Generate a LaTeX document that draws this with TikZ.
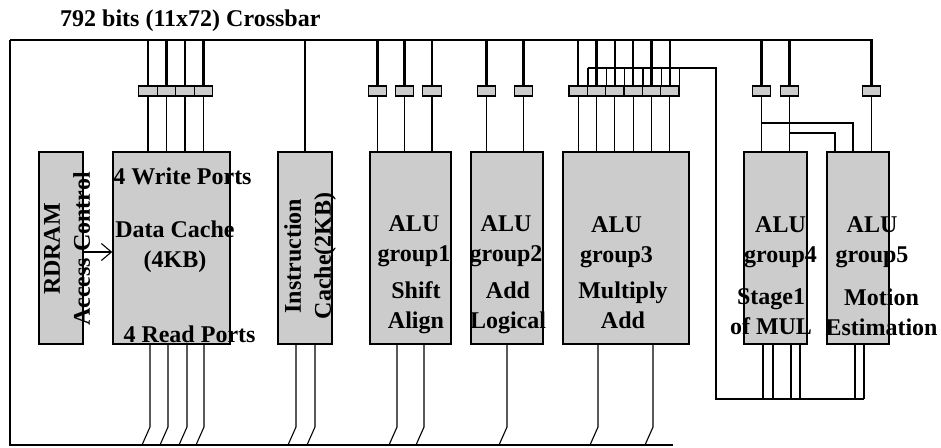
\documentclass[tikz,border=0pt]{standalone}
\usepackage{fontspec}
\setmainfont{Liberation Serif}
\usetikzlibrary{arrows.meta}

\begin{document}
\begin{tikzpicture}[x=1pt,y=-1pt,
    unit/.style={draw,fill=black!20,line width=1.5pt,inner sep=0pt,minimum height=192pt},
    buf/.style={draw,fill=black!20,line width=1.2pt,inner sep=0pt,minimum width=18.3pt,minimum height=10pt},
    drop/.style={line width=2.4pt},
    wire/.style={line width=1.1pt},
    lbl/.style={font=\fontsize{24}{30}\selectfont\bfseries,inner sep=0pt,align=center}]
  \useasboundingbox (0,0) rectangle (941,447);
  \coordinate (bus) at (0,40);
  \coordinate (nw) at (10,40);
  \coordinate (sw) at (10,445);
  \coordinate (se) at (673,445);
  \coordinate (fb) at (716,68);
  \coordinate (fbl) at (716,399);
  \node[lbl,anchor=base west] (title) at (60,27) {792 bits (11x72) Crossbar};

  \node[unit,minimum width=44pt] (rd) at (61,248) {};
  \node[unit,minimum width=117pt] (dc) at (171.5,248) {};
  \node[unit,minimum width=54pt] (ic) at (305,248) {};
  \node[unit,minimum width=81pt] (g1) at (410.5,248) {};
  \node[unit,minimum width=72pt] (g2) at (507,248) {};
  \node[unit,minimum width=126pt] (g3) at (626,248) {};
  \node[unit,minimum width=63pt] (g4) at (775.5,248) {};
  \node[unit,minimum width=62pt] (g5) at (858,248) {};

  \foreach \u/\xs in {dc/{148,166.5,185,203.5},g1/{377.5,404.5,432},g2/{486.5,523.5},g3/{578.2,596.5,614.8,633.2,651.5,669.8}}
    \foreach \x [count=\i] in \xs {
      \node[buf] (\u b\i) at (\x,91) {};
      \draw[drop] (\u b\i.north |- bus) -- (\u b\i.north);
      \draw[wire] (\u b\i.south) -- (\u b\i.south |- \u.north);
    }
  \foreach \x [count=\i] in {761.5,789.5,871.5}
    \node[buf] (q\i) at (\x,91) {};
  \foreach \i in {1,2}
    \draw[drop] (q\i.north |- bus) -- (q\i.north);
  \draw[line width=2.8pt] (q3.north) |- (nw);
  \draw[line width=2pt] (nw) -- (sw) -- (se);
  \draw[wire] (ic.north |- bus) -- (ic.north);

  \draw[wire] (q1.south) -- (q1.south |- g4.north);
  \draw[wire] (q2.south) -- (q2.south |- g4.north);
  \draw[wire] (q3.south) -- (q3.south |- g5.north);
  \draw[wire] (q1.south |- 0,123) -| (853,0 |- g5.north);
  \draw[wire] (q2.south |- 0,133) -| (835,0 |- g5.north);

  \foreach \i in {1,...,6}
    \draw[wire] (g3b\i.north east) -- (g3b\i.north east |- fb);
  \draw[wire] (g3b1.north east |- fb) -- (fb) -- (fbl) -- (864,0 |- fbl);
  \foreach \u/\xs in {g4/{763,773,791,800},g5/{855,864}}
    \foreach \x in \xs
      \draw[wire] (\x,0 |- \u.south) -- (\x,0 |- fbl);

  \foreach \u/\xs in {dc/{150,168,187,204},ic/{296,315},g1/{397,424},g2/{507},g3/{598,653}}
    \foreach \x in \xs
      \draw[wire] (\x,0 |- \u.south) -- (\x,427) -- ++(-8,18);

  \draw[wire,-{Straight Barb[length=10pt,width=17pt]}] ([yshift=-4pt]rd.east) -- ([yshift=-4pt]dc.west);

  \node[lbl,rotate=90] (rdt) at (67,249) {RDRAM\\Access Control};
  \node[lbl,anchor=north] (dcw) at (182.5,167.5) {4 Write Ports};
  \node[lbl,anchor=north] (dct) at (175,220.5) {Data Cache\\(4KB)};
  \node[lbl,anchor=north] (dcr) at (189.5,325.5) {4 Read Ports};
  \node[lbl,rotate=90] (ict) at (310,256) {Instruction\\Cache(2KB)};
  \node[lbl,anchor=north] (g1h) at (414,215.8) {ALU\\group1};
  \node[lbl,anchor=north] (g1f) at (416,281.5) {Shift\\Align};
  \node[lbl,anchor=north] (g2h) at (506,215.8) {ALU\\group2};
  \node[lbl,anchor=north] (g2f) at (508,281.5) {Add\\Logical};
  \node[lbl,anchor=north] (g3h) at (616.5,216.8) {ALU\\group3};
  \node[lbl,anchor=north] (g3f) at (623,281.5) {Multiply\\Add};
  \node[lbl,anchor=north] (g4h) at (780.5,216.8) {ALU\\group4};
  \node[lbl,anchor=north] (g4f) at (771,288.5) {Stage1\\of MUL};
  \node[lbl,anchor=north] (g5h) at (872,216.8) {ALU\\group5};
  \node[lbl,anchor=north] (g5f) at (881.5,288.5) {Motion\\Estimation};
\end{tikzpicture}
\end{document}
